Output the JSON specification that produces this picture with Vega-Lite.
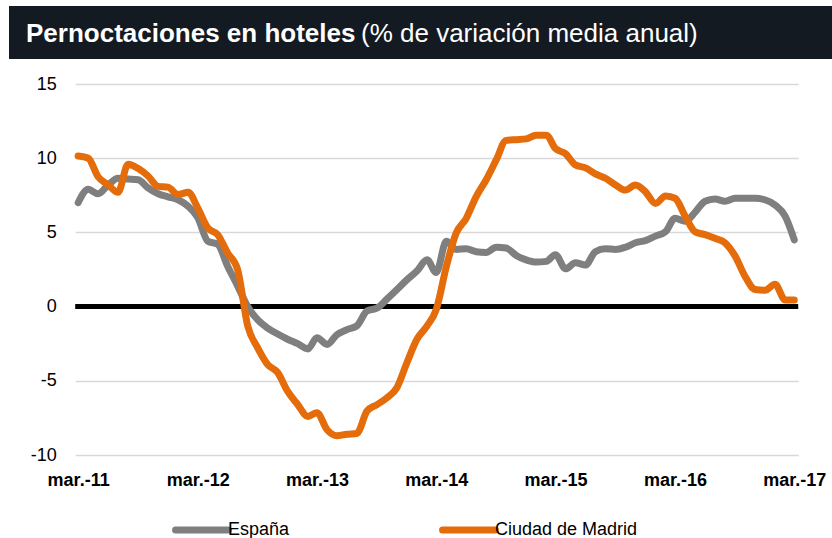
{
  "$schema": "https://vega.github.io/schema/vega-lite/v6.json",
  "padding": {"left": 9, "top": 6, "right": 0, "bottom": 0},
  "autosize": {"type": "pad"},
  "background": "white",
  "title": {"text": "(% de variación media anual)", "anchor": "start", "frame": "group", "dx": 352, "offset": -62, "orient": "top", "baseline": "alphabetic", "fontSize": 26, "fontWeight": "normal", "color": "white", "font": "Liberation Sans"},
  "spacing": 16,
  "center": true,
  "bounds": "full",
  "config": {
    "font": "Liberation Sans",
    "view": {"stroke": null},
    "axis": {"labelFont": "Liberation Sans", "labelColor": "#000", "labelFontSize": 18, "domain": false, "ticks": false, "tickSize": 0},
    "axisY": {"grid": true, "gridColor": "#d9d9d9", "gridWidth": 1.5, "labelPadding": 19, "titleColor": "#ffffff", "titleFontSize": 8, "titlePadding": 5},
    "axisX": {"grid": false, "labelFontWeight": "bold", "labelPadding": 16}
  },
  "vconcat": [
    {
      "width": 883,
      "height": 53,
      "view": {"fill": "#141a21", "stroke": null},
      "title": {"text": "Pernoctaciones en hoteles", "anchor": "start", "frame": "group", "dx": 17, "offset": -62, "orient": "top", "baseline": "alphabetic", "fontSize": 26, "fontWeight": "bold", "color": "white", "font": "Liberation Sans"},
      "data": {"values": [{"t": ""}]},
      "mark": {"type": "text", "opacity": 0},
      "encoding": {"text": {"field": "t", "type": "nominal"}}
    },
    {
      "width": 723,
      "height": 371,
      "layer": [
        {
          "data": {"values": [{"ref": 0}]},
          "mark": {"type": "rule", "color": "#000000", "strokeWidth": 5},
          "encoding": {
            "y": {"field": "ref", "type": "quantitative", "scale": {"domain": [-10, 15]}, "axis": {"values": [-10, -5, 0, 5, 10, 15], "title": ".", "labelExpr": "replace(datum.label, '−', '-')"}}
          }
        },
        {
          "data": {"values": [
            {"date": "2011-03-01", "España": 7.0, "Ciudad de Madrid": 10.15},
            {"date": "2011-04-01", "España": 7.9, "Ciudad de Madrid": 10.0},
            {"date": "2011-05-01", "España": 7.6, "Ciudad de Madrid": 8.75},
            {"date": "2011-06-01", "España": 8.2, "Ciudad de Madrid": 8.2},
            {"date": "2011-07-01", "España": 8.65, "Ciudad de Madrid": 7.7},
            {"date": "2011-08-01", "España": 8.6, "Ciudad de Madrid": 9.6},
            {"date": "2011-09-01", "España": 8.55, "Ciudad de Madrid": 9.3},
            {"date": "2011-10-01", "España": 8.0, "Ciudad de Madrid": 8.8},
            {"date": "2011-11-01", "España": 7.6, "Ciudad de Madrid": 8.1},
            {"date": "2011-12-01", "España": 7.4, "Ciudad de Madrid": 8.05},
            {"date": "2012-01-01", "España": 7.2, "Ciudad de Madrid": 7.55},
            {"date": "2012-02-01", "España": 6.75, "Ciudad de Madrid": 7.7},
            {"date": "2012-03-01", "España": 6.0, "Ciudad de Madrid": 6.65},
            {"date": "2012-04-01", "España": 4.4, "Ciudad de Madrid": 5.3},
            {"date": "2012-05-01", "España": 4.2, "Ciudad de Madrid": 4.85},
            {"date": "2012-06-01", "España": 2.7, "Ciudad de Madrid": 3.6},
            {"date": "2012-07-01", "España": 1.4, "Ciudad de Madrid": 2.5},
            {"date": "2012-08-01", "España": 0.0, "Ciudad de Madrid": -1.3},
            {"date": "2012-09-01", "España": -0.9, "Ciudad de Madrid": -2.8},
            {"date": "2012-10-01", "España": -1.45, "Ciudad de Madrid": -3.9},
            {"date": "2012-11-01", "España": -1.85, "Ciudad de Madrid": -4.45},
            {"date": "2012-12-01", "España": -2.2, "Ciudad de Madrid": -5.7},
            {"date": "2013-01-01", "España": -2.5, "Ciudad de Madrid": -6.6},
            {"date": "2013-02-01", "España": -2.85, "Ciudad de Madrid": -7.4},
            {"date": "2013-03-01", "España": -2.1, "Ciudad de Madrid": -7.15},
            {"date": "2013-04-01", "España": -2.55, "Ciudad de Madrid": -8.3},
            {"date": "2013-05-01", "España": -1.9, "Ciudad de Madrid": -8.7},
            {"date": "2013-06-01", "España": -1.55, "Ciudad de Madrid": -8.6},
            {"date": "2013-07-01", "España": -1.3, "Ciudad de Madrid": -8.55},
            {"date": "2013-08-01", "España": -0.3, "Ciudad de Madrid": -7.05},
            {"date": "2013-09-01", "España": -0.1, "Ciudad de Madrid": -6.6},
            {"date": "2013-10-01", "España": 0.5, "Ciudad de Madrid": -6.15},
            {"date": "2013-11-01", "España": 1.15, "Ciudad de Madrid": -5.45},
            {"date": "2013-12-01", "España": 1.8, "Ciudad de Madrid": -3.8},
            {"date": "2014-01-01", "España": 2.4, "Ciudad de Madrid": -2.2},
            {"date": "2014-02-01", "España": 3.15, "Ciudad de Madrid": -1.3},
            {"date": "2014-03-01", "España": 2.3, "Ciudad de Madrid": -0.2},
            {"date": "2014-04-01", "España": 4.4, "Ciudad de Madrid": 2.7},
            {"date": "2014-05-01", "España": 3.85, "Ciudad de Madrid": 4.95},
            {"date": "2014-06-01", "España": 3.9, "Ciudad de Madrid": 5.95},
            {"date": "2014-07-01", "España": 3.7, "Ciudad de Madrid": 7.4},
            {"date": "2014-08-01", "España": 3.65, "Ciudad de Madrid": 8.55},
            {"date": "2014-09-01", "España": 4.0, "Ciudad de Madrid": 9.9},
            {"date": "2014-10-01", "España": 3.95, "Ciudad de Madrid": 11.2},
            {"date": "2014-11-01", "España": 3.45, "Ciudad de Madrid": 11.25},
            {"date": "2014-12-01", "España": 3.15, "Ciudad de Madrid": 11.3},
            {"date": "2015-01-01", "España": 3.0, "Ciudad de Madrid": 11.55},
            {"date": "2015-02-01", "España": 3.05, "Ciudad de Madrid": 11.55},
            {"date": "2015-03-01", "España": 3.5, "Ciudad de Madrid": 10.65},
            {"date": "2015-04-01", "España": 2.55, "Ciudad de Madrid": 10.3},
            {"date": "2015-05-01", "España": 2.95, "Ciudad de Madrid": 9.55},
            {"date": "2015-06-01", "España": 2.8, "Ciudad de Madrid": 9.35},
            {"date": "2015-07-01", "España": 3.7, "Ciudad de Madrid": 8.95},
            {"date": "2015-08-01", "España": 3.9, "Ciudad de Madrid": 8.65},
            {"date": "2015-09-01", "España": 3.85, "Ciudad de Madrid": 8.2},
            {"date": "2015-10-01", "España": 4.0, "Ciudad de Madrid": 7.85},
            {"date": "2015-11-01", "España": 4.3, "Ciudad de Madrid": 8.2},
            {"date": "2015-12-01", "España": 4.45, "Ciudad de Madrid": 7.75},
            {"date": "2016-01-01", "España": 4.75, "Ciudad de Madrid": 6.95},
            {"date": "2016-02-01", "España": 5.05, "Ciudad de Madrid": 7.45},
            {"date": "2016-03-01", "España": 5.95, "Ciudad de Madrid": 7.3},
            {"date": "2016-04-01", "España": 5.75, "Ciudad de Madrid": 6.1},
            {"date": "2016-05-01", "España": 6.35, "Ciudad de Madrid": 5.05},
            {"date": "2016-06-01", "España": 7.1, "Ciudad de Madrid": 4.85},
            {"date": "2016-07-01", "España": 7.25, "Ciudad de Madrid": 4.6},
            {"date": "2016-08-01", "España": 7.1, "Ciudad de Madrid": 4.3},
            {"date": "2016-09-01", "España": 7.3, "Ciudad de Madrid": 3.4},
            {"date": "2016-10-01", "España": 7.3, "Ciudad de Madrid": 2.05},
            {"date": "2016-11-01", "España": 7.3, "Ciudad de Madrid": 1.15},
            {"date": "2016-12-01", "España": 7.2, "Ciudad de Madrid": 1.1},
            {"date": "2017-01-01", "España": 6.85, "Ciudad de Madrid": 1.5},
            {"date": "2017-02-01", "España": 6.1, "Ciudad de Madrid": 0.45},
            {"date": "2017-03-01", "España": 4.5, "Ciudad de Madrid": 0.45}
          ]},
          "transform": [{"fold": ["España", "Ciudad de Madrid"], "as": ["serie", "valor"]}],
          "mark": {"type": "line", "strokeWidth": 7, "interpolate": "monotone", "strokeCap": "round", "strokeJoin": "round"},
          "encoding": {
            "x": {
              "field": "date", "type": "temporal",
              "scale": {"type": "utc", "domain": [{"year": 2011, "month": 2, "date": 20, "utc": true}, {"year": 2017, "month": 3, "date": 13, "utc": true}]},
              "axis": {
                "title": null,
                "values": [
                  {"year": 2011, "month": 3, "date": 1, "utc": true},
                  {"year": 2012, "month": 3, "date": 1, "utc": true},
                  {"year": 2013, "month": 3, "date": 1, "utc": true},
                  {"year": 2014, "month": 3, "date": 1, "utc": true},
                  {"year": 2015, "month": 3, "date": 1, "utc": true},
                  {"year": 2016, "month": 3, "date": 1, "utc": true},
                  {"year": 2017, "month": 3, "date": 1, "utc": true}
                ],
                "labelExpr": "'mar.-' + utcFormat(datum.value, '%y')"
              }
            },
            "y": {"field": "valor", "type": "quantitative", "scale": {"domain": [-10, 15]}, "axis": {"values": [-10, -5, 0, 5, 10, 15], "title": ".", "labelExpr": "replace(datum.label, '−', '-')"}},
            "color": {
              "field": "serie", "type": "nominal",
              "scale": {"domain": ["España", "Ciudad de Madrid"], "range": ["#7f7f7f", "#e46c0a"]},
              "legend": {
                "title": null, "orient": "none", "legendX": 163, "legendY": 494, "direction": "horizontal",
                "symbolType": "stroke", "symbolSize": 2800, "symbolStrokeWidth": 7,
                "labelFontSize": 18, "labelColor": "#000", "labelFont": "Liberation Sans", "columnPadding": 138, "labelOffset": -4,
                "encode": {"symbols": {"update": {"strokeCap": {"value": "round"}}}}
              }
            }
          }
        }
      ]
    }
  ]
}
